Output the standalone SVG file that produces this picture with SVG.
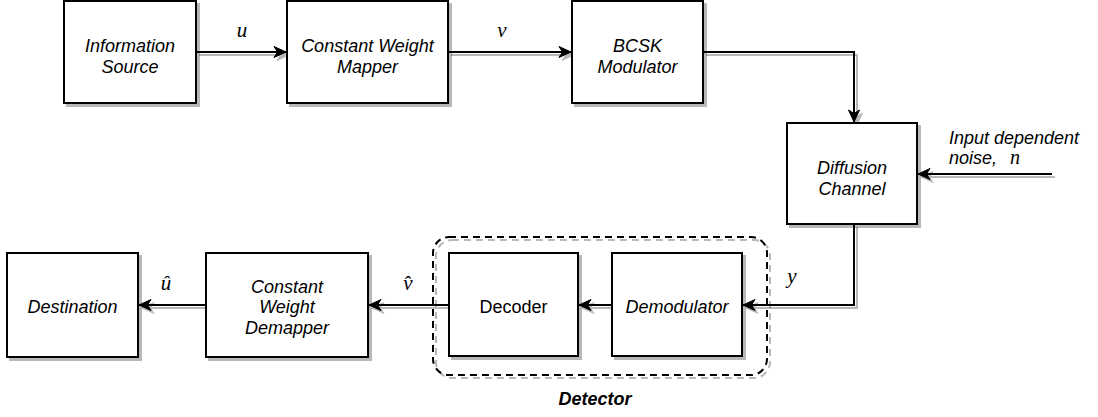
<svg xmlns="http://www.w3.org/2000/svg" width="1098" height="417" viewBox="0 0 1098 417">
<style>
.box{fill:#fff;stroke:#000;stroke-width:2}
.t{font-family:"Liberation Sans",Arial,sans-serif;font-size:18px;font-style:italic;text-anchor:middle;fill:#000}
.tn{font-family:"Liberation Sans",Arial,sans-serif;font-size:18px;text-anchor:middle;fill:#000}
.m{font-family:"Liberation Serif","Times New Roman",serif;font-size:21px;font-style:italic;text-anchor:middle;fill:#000}
.c{fill:none;stroke:#000;stroke-width:2}
</style>
<defs>
<filter id="sh" x="-10%" y="-10%" width="130%" height="130%">
<feDropShadow dx="3" dy="3" stdDeviation="0.6" flood-color="#000" flood-opacity="0.28"/>
</filter>
<marker id="ar" markerUnits="userSpaceOnUse" markerWidth="14" markerHeight="14" viewBox="0 0 14 14" refX="13" refY="7" orient="auto">
<path d="M1,1.5 L13,7 L1,12.5 L4.5,7 Z" fill="#000" stroke="#000" stroke-width="1"/>
</marker>
</defs>
<g id="detector-group" filter="url(#sh)">
<rect x="433" y="237" width="334" height="138" rx="16" ry="16" fill="none" stroke="#000" stroke-width="2" stroke-dasharray="7,5"/>
</g>
<text class="t" x="595" y="405" font-weight="bold">Detector</text>
<g id="connectors" filter="url(#sh)">
<path class="c" d="M196,52 H286" marker-end="url(#ar)"/>
<path class="c" d="M448,52 H571" marker-end="url(#ar)"/>
<path class="c" d="M703,52 H854 V122" marker-end="url(#ar)"/>
<path class="c" d="M1052,174 H918" marker-end="url(#ar)"/>
<path class="c" d="M854,224 V305 H743" marker-end="url(#ar)"/>
<path class="c" d="M612,305 H579" marker-end="url(#ar)"/>
<path class="c" d="M449,305 H369" marker-end="url(#ar)"/>
<path class="c" d="M206,305 H139" marker-end="url(#ar)"/>
</g>
<g id="labels">
<text class="m" x="242" y="37">u</text>
<text class="m" x="502" y="37">v</text>
<text class="m" x="166" y="290">û</text>
<text class="m" x="408" y="290">v̂</text>
<text class="m" x="792" y="283">y</text>
<text font-family="'Liberation Sans',Arial,sans-serif" font-size="18" font-style="italic" x="949" y="144">Input dependent</text>
<text font-family="'Liberation Sans',Arial,sans-serif" font-size="18" font-style="italic" x="949" y="164">noise,<tspan font-family="'Liberation Serif','Times New Roman',serif" font-size="20" x="1010">n</tspan></text>
</g>
<g id="info-source">
<rect class="box" x="64" y="1" width="132" height="102" filter="url(#sh)"/>
<text class="t" x="130" y="52">Information</text>
<text class="t" x="130" y="73">Source</text>
</g>
<g id="cw-mapper">
<rect class="box" x="287" y="1" width="161" height="102" filter="url(#sh)"/>
<text class="t" x="367.5" y="52">Constant Weight</text>
<text class="t" x="367.5" y="73">Mapper</text>
</g>
<g id="bcsk-modulator">
<rect class="box" x="572" y="1" width="131" height="102" filter="url(#sh)"/>
<text class="t" x="637.5" y="52">BCSK</text>
<text class="t" x="637.5" y="73">Modulator</text>
</g>
<g id="diffusion-channel">
<rect class="box" x="787" y="123" width="130" height="101" filter="url(#sh)"/>
<text class="t" x="852" y="174">Diffusion</text>
<text class="t" x="852" y="195">Channel</text>
</g>
<g id="demodulator">
<rect class="box" x="612" y="253" width="130" height="103" filter="url(#sh)"/>
<text class="t" x="677" y="313">Demodulator</text>
</g>
<g id="decoder">
<rect class="box" x="449" y="253" width="129" height="103" filter="url(#sh)"/>
<text class="tn" x="513.5" y="313">Decoder</text>
</g>
<g id="cw-demapper">
<rect class="box" x="206" y="253" width="162" height="104" filter="url(#sh)"/>
<text class="t" x="287" y="293">Constant</text>
<text class="t" x="287" y="313">Weight</text>
<text class="t" x="287" y="334">Demapper</text>
</g>
<g id="destination">
<rect class="box" x="7" y="253" width="131" height="104" filter="url(#sh)"/>
<text class="t" x="72.5" y="313">Destination</text>
</g>
</svg>
